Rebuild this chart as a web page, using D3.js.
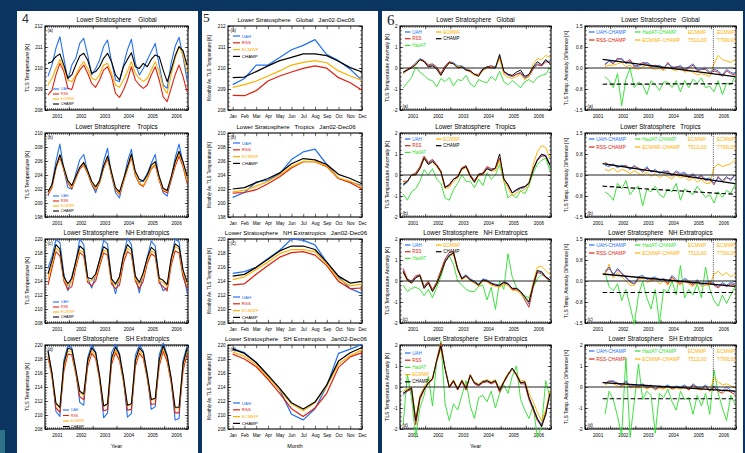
<!DOCTYPE html>
<html>
<head>
<meta charset="utf-8">
<script src="https://cdn.jsdelivr.net/npm/d3@7"></script>
<style>
  body { margin: 0; background: #0b3561; }
  svg { display: block; }
</style>
</head>
<body>
<svg id="fig" width="745" height="453"></svg>
<script>
// Lower stratosphere TLS temperatures: absolute series (4), monthly means (5), anomalies and differences (6)

const FONT = '"Liberation Sans", Arial, Helvetica, sans-serif';
const SERIF = '"Liberation Serif", "Times New Roman", serif';

const years = [2001, 2002, 2003, 2004, 2005, 2006];
const monthNames = ["Jan", "Feb", "Mar", "Apr", "May", "Jun", "Jul", "Aug", "Sep", "Oct", "Nov", "Dec"];
const regions = ["Global", "Tropics", "NH Extratropics", "SH Extratropics"];
const rowTags = ["(a)", "(b)", "(c)", "(d)"];
const datasets = ["UAH", "RSS", "ECMWF", "CHAMP"];
const colors = { UAH: "#2370f2", RSS: "#e0220f", ECMWF: "#ffb000", CHAMP: "#000000", HadAT: "#35e035" };

// sample points every second month (Feb, Apr, Jun, Aug, Oct, Dec) 2001-2006
const sampleTimes = d3.range(36).map(i => 2001 + (2 * i + 1.5) / 12);

// ---- panel 4 : TLS temperature [K] ----
const tlsGlobalUAH = [209.6,210.14,210.94,211.49,210.46,209.43, 210.14,210.46,211.17,211.41,210.62,209.67, 209.98,210.38,211.02,211.33,210.3,209.43, 209.35,210.14,210.86,211.37,210.22,209.67, 209.98,210.38,210.78,211.17,210.14,209.19, 209.03,210.22,211.02,211.46,210.54,209.43];
const tlsGlobalRSS = [208.71,208.95,209.67,210.22,209.83,209.03, 208.98,209.59,209.9,210.14,209.75,209.27, 209.08,209.43,209.9,210.06,209.59,208.79, 208.6,208.95,209.43,210.06,209.43,209.19, 209.03,209.19,209.67,210.06,209.43,208.63, 208.4,209.03,209.67,210.14,209.59,208.87];
const tlsGlobalECMWF = [209.19,209.51,209.98,210.41,209.98,209.43, 209.35,209.67,210.06,210.3,209.98,209.51, 209.43,209.67,210.14,210.22,209.75,209.19, 209.08,209.43,209.83,210.3,209.75,209.51, 209.35,209.51,209.9,210.3,209.83,209.08, 208.79,209.67,210.46,211.02,210.62,209.83];
const tlsGlobalCHAMP = [210.22,210.3,210.54,210.67,210.14,209.51, 209.67,210.14,210.57,210.7,210.38,209.75, 209.83,210.06,210.46,210.7,210.3,209.67, 209.43,210.06,210.41,210.73,210.06,209.98, 210.22,210.06,210.41,210.62,210.54,209.9, 209.35,209.9,210.57,211.02,210.83,210.14];

const tlsTropUAH = [200.98,202.71,205.93,208.41,204.7,202.2, 201.97,204.2,206.18,206.93,204.45,202.71, 201.47,203.21,205.93,207.82,203.95,201.47, 200.73,203.21,205.93,207.67,203.95,202.96, 203.21,204.2,205.69,206.93,203.46,201.47, 200.98,203.46,206.43,208.41,205.69,203.21];
const tlsTropRSS = [201.22,202.2,204.94,206.53,204.7,202.86, 202.07,203.46,204.84,205.44,204.2,202.71, 201.87,202.86,204.94,206.33,203.95,201.87, 201.22,202.96,204.84,206.53,203.95,202.71, 202.36,203.46,204.84,205.44,203.21,201.72, 201.47,203.21,205.19,206.68,205.19,202.86];
const tlsTropECMWF = [201.4,202.35,205.1,206.7,204.85,203.0, 202.25,203.6,205.0,205.6,204.35,202.85, 202.0,203.0,205.1,206.5,204.1,202.0, 201.35,203.1,205.0,206.7,204.1,202.85, 202.5,203.6,205.0,205.6,203.4,201.9, 201.7,203.5,205.6,207.1,205.6,203.2];
const tlsTropCHAMP = [201.6,202.6,205.2,206.9,205.1,203.2, 202.5,203.8,205.1,205.8,204.6,203.1, 202.3,203.2,205.3,206.7,204.4,202.2, 201.6,203.4,205.2,207.0,204.5,203.4, 203.1,204.0,205.4,205.9,203.8,202.1, 201.8,203.7,205.9,207.4,205.9,203.9];

const tlsNHUAH = [215.8,217.5,219.9,219.5,215.0,212.6, 214.6,216.8,220.0,219.2,214.4,213.0, 214.8,217.0,219.8,219.3,214.2,212.2, 214.5,217.6,220.1,219.2,214.6,212.3, 215.1,217.4,219.7,219.0,214.1,212.6, 213.0,217.0,220.0,219.6,215.3,212.4];
const tlsNHRSS = [213.4,215.8,218.2,217.6,214.0,212.8, 213.2,215.9,218.1,217.6,213.8,213.3, 214.0,216.1,218.0,217.7,213.6,212.9, 213.4,216.6,218.2,217.8,214.0,212.9, 214.0,216.5,217.9,217.5,213.7,213.2, 212.6,216.2,218.3,218.0,214.6,212.9];
const tlsNHECMWF = [214.3,216.4,218.7,218.2,214.3,213.3, 213.9,216.4,218.4,218.1,214.1,214.0, 214.7,216.6,218.4,218.2,213.9,213.4, 214.2,217.2,218.7,218.3,214.3,213.5, 214.8,216.9,218.3,218.0,214.0,213.8, 213.2,216.8,218.9,218.6,215.2,213.6];
const tlsNHCHAMP = [215.0,216.9,219.2,218.6,214.6,213.6, 214.4,216.8,219.0,218.5,214.5,214.3, 215.0,217.0,218.9,218.5,214.3,213.6, 214.6,217.6,219.2,218.6,214.7,213.8, 215.2,217.3,218.8,218.3,214.4,214.1, 213.5,217.2,219.3,218.9,215.6,213.9];

const tlsSHUAH = [219.3,216.0,210.5,209.8,217.8,219.9, 219.6,216.5,211.8,211.4,218.2,220.0, 219.0,215.4,209.6,210.3,218.9,220.1, 218.8,215.3,209.7,210.2,218.5,220.0, 219.1,215.8,210.8,211.2,218.6,220.3, 218.6,215.2,209.3,209.5,217.8,219.8];
const tlsSHRSS = [218.3,215.4,211.0,210.4,216.3,218.7, 218.6,215.9,212.6,212.2,216.9,218.8, 218.1,215.0,210.6,210.8,217.2,218.9, 217.8,214.8,210.7,210.8,216.9,218.8, 218.1,215.2,211.5,211.6,217.0,219.1, 217.6,214.7,210.3,210.3,216.3,218.7];
const tlsSHECMWF = [218.7,215.7,211.6,211.0,216.9,219.1, 219.0,216.2,213.2,212.8,217.4,219.2, 218.5,215.3,211.2,211.5,217.7,219.3, 218.2,215.1,211.3,211.5,217.4,219.2, 218.5,215.5,212.1,212.3,217.5,219.5, 218.0,215.0,211.0,211.0,216.9,219.1];
const tlsSHCHAMP = [219.1,216.0,211.7,211.1,217.3,219.5, 219.4,216.5,213.4,213.0,217.8,219.6, 218.9,215.6,211.3,211.6,218.1,219.7, 218.6,215.4,211.4,211.6,217.8,219.6, 218.9,215.8,212.2,212.4,217.9,219.9, 218.4,215.3,211.1,211.1,217.3,219.5];

// ---- panel 5 : monthly averages Jan02-Dec06 [K] ----
const climGlobalUAH = [209.21,209.5,210.14,210.14,210.5,210.87,211.08,211.35,210.64,210.35,209.94,209.41];
const climGlobalRSS = [208.7,208.68,208.92,209.38,209.62,209.81,209.98,210.1,209.99,209.54,209.3,208.94];
const climGlobalECMWF = [209.08,209.21,209.38,209.62,209.86,210.14,210.27,210.35,210.25,209.86,209.62,209.41];
const climGlobalCHAMP = [209.54,209.57,209.83,210.1,210.35,210.51,210.67,210.67,210.59,210.32,210.02,209.81];
const climTropUAH = [200.8,201.5,203.0,203.25,204.2,206.2,207.3,207.7,205.5,203.5,203.0,202.5];
const climTropRSS = [201.4,201.5,201.9,202.75,203.75,205.0,205.9,205.9,205.2,203.5,202.9,202.0];
const climTropECMWF = [201.6,201.8,202.4,203.1,204.0,205.2,205.95,205.9,205.3,203.6,203.1,202.3];
const climTropCHAMP = [202.0,202.2,202.9,203.5,204.3,205.6,206.35,206.15,205.5,204.1,203.5,202.75];
const climNHUAH = [215.1,215.35,215.95,217.2,218.4,220.0,219.8,219.15,216.7,214.6,212.9,212.2];
const climNHRSS = [213.45,213.6,214.95,216.2,217.4,218.05,218.2,217.7,216.2,213.95,212.9,213.0];
const climNHECMWF = [214.2,214.6,215.65,216.7,217.9,218.5,218.5,218.2,216.45,214.3,213.3,213.6];
const climNHCHAMP = [214.7,214.95,215.95,217.1,218.3,219.0,219.0,218.5,216.7,214.7,213.7,213.95];
const climSHUAH = [219.5,218.9,217.5,215.55,213.6,210.1,209.3,210.9,214.1,218.8,219.4,220.1];
const climSHRSS = [218.7,218.0,216.9,215.1,213.1,210.9,209.8,211.0,213.1,216.8,218.3,218.9];
const climSHECMWF = [219.0,218.4,217.2,215.4,213.6,211.6,210.6,211.75,214.1,217.3,218.5,219.3];
const climSHCHAMP = [219.4,218.8,217.5,215.7,213.8,211.75,210.85,211.85,214.3,217.7,218.9,219.65];

// ---- panel 6 left : TLS temperature anomaly [K] ----
const anomGlobalUAH = [-0.25,-0.1,0.05,0.25,0.45,0.35, 0.1,0.15,0.0,-0.3,0.05,0.3, 0.25,0.1,0.1,-0.05,-0.15,-0.3, -0.35,-0.1,0.05,0.1,0.05,0.55, -0.2,-0.35,-0.4,-0.3,-0.2,-0.45, -0.35,0.0,0.2,0.1,0.35,0.3];
const anomGlobalRSS = [-0.2,-0.05,0.05,0.2,0.4,0.35, 0.15,0.2,0.05,-0.25,0.1,0.3, 0.2,0.05,0.05,-0.1,-0.1,-0.3, -0.3,-0.05,0.05,0.1,0.0,0.5, -0.2,-0.3,-0.4,-0.3,-0.25,-0.5, -0.4,-0.05,0.15,0.1,0.3,0.25];
const anomGlobalECMWF = [-0.3,-0.1,0.0,0.2,0.4,0.3, 0.05,0.1,-0.05,-0.35,0.0,0.25, 0.2,0.05,0.05,-0.1,-0.2,-0.35, -0.35,-0.15,0.0,0.05,0.0,0.45, -0.3,-0.45,-0.5,-0.4,-0.3,-0.55, -0.4,0.2,0.45,0.4,0.6,0.5];
const anomGlobalCHAMP = [-0.2,-0.1,0.0,0.15,0.4,0.3, 0.05,0.1,-0.05,-0.35,0.0,0.25, 0.2,0.0,0.05,-0.1,-0.15,-0.3, -0.4,-0.05,0.05,0.0,0.0,0.65, -0.15,-0.3,-0.35,-0.2,-0.1,-0.4, -0.3,0.05,0.3,0.15,0.4,0.2];
const anomGlobalHadAT = [-0.95,-0.7,-0.45,0.05,-0.2,-0.35, -0.55,-0.6,-0.9,-0.5,-0.65,-0.45, -0.85,-0.55,-0.6,-0.35,-0.75,-0.9, -0.55,-0.65,-0.7,-0.4,-0.6,-0.15, -0.65,-0.8,-0.6,-0.75,-0.95,-0.65, -0.55,-0.7,-0.45,-0.35,-0.3,0.0];

const anomTropUAH = [-0.5,-0.35,0.0,0.05,0.35,0.85, 0.55,0.7,0.45,0.15,-0.6,-0.5, -0.2,-0.1,0.3,0.4,-0.05,-0.3, 0.0,0.05,0.35,0.25,0.3,0.75, -0.2,-0.5,-0.85,-0.75,-0.65,-0.6, -0.4,0.3,0.75,0.95,0.95,0.5];
const anomTropRSS = [-0.3,-0.3,0.0,0.1,0.4,0.9, 0.6,0.75,0.5,0.2,-0.55,-0.5, -0.2,-0.05,0.35,0.45,0.0,-0.25, 0.0,0.1,0.4,0.3,0.3,0.8, -0.15,-0.5,-0.85,-0.7,-0.6,-0.55, -0.35,0.3,0.7,0.9,0.9,0.45];
const anomTropECMWF = [-0.4,-0.3,0.0,0.0,0.3,0.8, 0.5,0.6,0.4,0.1,-0.65,-0.6, -0.3,-0.15,0.25,0.35,-0.1,-0.35, -0.05,0.0,0.3,0.2,0.2,0.7, -0.3,-0.6,-1.0,-0.85,-0.75,-0.7, -0.45,0.5,1.1,1.4,1.3,0.8];
const anomTropCHAMP = [-0.45,-0.3,0.0,0.0,0.3,0.8, 0.5,0.65,0.45,0.15,-0.6,-0.45, -0.2,-0.1,0.3,0.4,-0.05,-0.35, 0.05,0.05,0.3,0.2,0.35,1.0, -0.2,-0.45,-0.85,-0.7,-0.6,-0.55, -0.4,0.25,0.7,1.0,0.9,0.45];
const anomTropHadAT = [-0.9,-1.2,-0.8,-0.65,-0.3,0.25, 0.0,0.3,-0.2,-0.4,-1.1,-1.2, -0.7,-0.4,0.0,-0.3,-0.3,-0.6, -0.2,-0.5,0.1,-0.2,0.0,0.5, -0.3,-1.1,-0.9,-1.1,-0.75,-0.9, -0.5,0.1,0.5,0.7,0.8,0.2];

const anomNHUAH = [0.5,0.05,-0.05,0.2,0.3,-0.3, -0.05,-0.45,-0.1,0.45,1.0,1.25, 1.3,0.6,0.15,0.3,0.1,0.0, -0.15,0.1,0.05,-0.1,-0.15,-0.2, -0.05,-0.1,-0.35,-0.35,-0.5,-0.8, -1.1,-0.2,0.45,0.4,0.2,0.05];
const anomNHRSS = [0.6,0.1,0.0,0.25,0.3,-0.25, 0.0,-0.4,-0.05,0.5,1.05,1.35, 1.4,0.6,0.1,0.25,0.05,-0.05, -0.2,0.05,0.0,-0.15,-0.2,-0.25, -0.1,-0.15,-0.4,-0.4,-0.55,-0.9, -1.25,-0.3,0.4,0.35,0.15,0.0];
const anomNHECMWF = [0.4,0.0,-0.1,0.15,0.25,-0.35, -0.1,-0.5,-0.15,0.35,0.9,1.2, 1.25,0.5,0.05,0.2,0.0,-0.1, -0.25,0.0,-0.05,-0.2,-0.25,-0.3, -0.15,-0.2,-0.45,-0.45,-0.6,-0.85, -1.0,-0.05,0.65,0.7,0.5,0.3];
const anomNHCHAMP = [0.45,0.05,-0.1,0.15,0.25,-0.35, -0.1,-0.5,-0.15,0.35,0.9,1.2, 1.35,0.55,0.1,0.25,0.05,-0.05, -0.2,0.05,0.0,-0.1,-0.2,-0.2, -0.05,-0.15,-0.35,-0.35,-0.5,-0.75, -1.0,-0.2,0.5,0.45,0.2,0.05];
const anomNHHadAT = [-0.2,-0.5,-0.35,-0.3,-0.4,-0.7, -0.4,-0.8,-0.3,0.2,0.9,1.2, 0.8,0.0,-0.2,-0.4,-0.5,-0.5, -0.25,-0.2,-0.9,-0.3,-1.35,0.0, -0.4,1.3,0.2,-0.3,-0.5,-0.7, -0.8,-0.3,0.1,0.3,0.2,0.0];

const anomSHUAH = [-0.4,-0.2,-0.1,-1.6,-0.5,-0.1, 0.2,0.4,1.2,1.9,0.9,0.0, 0.3,-0.1,0.3,-0.1,0.6,0.2, 0.1,0.25,0.3,0.2,0.3,-0.2, 0.25,0.6,0.9,0.6,0.2,0.2, -0.5,-1.0,-1.5,-1.8,-1.3,-0.3];
const anomSHRSS = [-0.3,-0.2,-0.1,-1.8,-0.6,-0.15, 0.15,0.35,1.3,2.1,0.9,-0.05, 0.25,-0.15,0.25,-0.15,0.55,0.15, 0.05,0.2,0.25,0.15,0.25,-0.25, 0.2,0.55,0.85,0.55,0.15,0.15, -0.6,-1.1,-1.6,-1.85,-1.2,-0.25];
const anomSHECMWF = [-0.2,-0.1,0.0,-1.5,-0.4,0.0, 0.3,0.45,1.2,1.8,0.9,0.05, 0.35,-0.05,0.35,0.0,0.6,0.25, 0.15,0.3,0.35,0.25,0.35,-0.1, 0.3,0.65,0.85,0.65,0.3,0.3, -0.3,-0.7,-1.2,-1.6,-1.1,-0.2];
const anomSHCHAMP = [-0.3,-0.15,-0.05,-1.6,-0.5,-0.1, 0.2,0.4,1.25,1.95,0.85,0.0, 0.3,-0.1,0.3,-0.05,0.55,0.2, 0.1,0.25,0.3,0.2,0.3,-0.15, 0.25,0.6,0.9,0.6,0.2,0.25, -0.5,-1.0,-1.5,-1.9,-1.3,-0.3];
const anomSHHadAT = [-1.8,0.6,-0.5,-2.4,-1.0,-0.4, 0.5,-0.9,1.2,2.2,-0.8,-1.6, -0.8,-1.1,-0.4,0.3,-0.9,-1.5, -0.5,-0.4,-0.7,-0.2,-1.0,-0.3, 0.1,-0.3,0.5,1.0,-0.6,-1.1, -1.5,-0.9,-2.4,-1.9,0.3,-0.5];

// ---- panel 6 right : anomaly differences to CHAMP [K], from Oct 2001 ----
const diffGlobalUAH = [0.15,0.25,0.2,0.3,0.35,0.15,0.25,0.1, 0.05,0.15,0.2,0.1,0.05,0.1,0.0,0.15, 0.05,0.0,0.1,-0.05,0.05,0.15,-0.05,-0.05, 0.0,-0.15,-0.05,-0.1,-0.25,-0.05,-0.15,-0.2];
const diffGlobalRSS = [0.1,0.25,0.15,0.35,0.3,0.2,0.3,0.05, 0.1,0.2,0.15,0.05,0.1,0.05,-0.05,0.2, 0.0,0.05,0.05,-0.1,0.0,0.1,-0.1,-0.05, -0.05,-0.2,-0.1,-0.15,-0.3,-0.1,-0.2,-0.25];
const diffGlobalHadAT = [-0.3,-0.45,-0.7,-0.2,-1.35,-0.4,0.0,-0.7, -0.5,-0.6,-0.95,-0.45,-0.6,-0.8,-0.5,-0.5, -0.7,-0.45,-0.85,-0.45,-0.7,-0.4,-0.55,-0.35, -0.7,-0.65,-0.85,-0.45,-0.95,-0.55,-0.6,-0.3];
const diffGlobalECMWF = [0.05,0.1,0.1,0.15,0.2,0.05,0.1,0.0, -0.05,0.05,0.1,0.0,-0.05,0.0,-0.1,0.05, -0.05,-0.1,0.0,-0.15,-0.1,-0.15,-0.25,-0.2, -0.25,-0.3,0.15,0.45,0.3,0.25,0.2,0.3];

const diffTropUAH = [0.35,0.3,0.4,0.25,0.35,0.3,0.2,0.35, 0.2,0.15,0.3,0.1,0.2,0.05,0.15,0.1, 0.0,0.15,0.05,0.1,-0.05,0.05,-0.1,0.0, -0.15,-0.1,-0.3,-0.1,-0.2,-0.05,-0.2,0.0];
const diffTropRSS = [0.45,0.35,0.35,0.3,0.3,0.35,0.2,0.3, 0.25,0.1,0.25,0.15,0.15,0.1,0.1,0.15, -0.05,0.1,0.0,0.05,-0.1,0.0,-0.1,-0.05, -0.2,-0.15,-0.35,-0.05,-0.25,-0.1,-0.15,0.0];
const diffTropHadAT = [-0.6,-0.7,-0.9,-0.3,-0.5,-0.2,-0.7,-0.5, -0.4,-1.1,-0.5,-0.6,-0.4,-0.7,-0.8,-0.5, -0.6,-0.3,-0.9,-0.5,-0.6,-0.7,-0.4,-0.6, -0.8,-0.7,-1.0,-0.6,-0.8,-0.55,-0.65,-0.35];
const diffTropECMWF = [0.2,0.15,0.25,0.1,0.2,0.15,0.05,0.15, 0.05,0.0,0.1,-0.05,0.05,-0.1,0.0,-0.05, -0.15,0.0,-0.1,-0.05,-0.2,-0.1,-0.25,-0.15, -0.3,-0.3,0.25,0.4,0.3,0.35,0.4,0.55];

const diffNHUAH = [0.35,0.5,0.2,0.45,0.3,0.1,0.0,-0.1, 0.15,0.2,0.05,0.1,0.15,0.0,0.1,-0.05, 0.2,0.05,-0.05,0.1,0.0,-0.1,0.05,-0.15, -0.05,0.0,-0.1,-0.2,-0.05,-0.15,-0.05,-0.1];
const diffNHRSS = [0.3,0.45,0.25,0.4,0.25,0.15,-0.05,-0.1, 0.1,0.15,0.1,0.05,0.1,0.05,0.05,-0.1, 0.15,0.0,-0.1,0.05,-0.05,-0.15,0.0,-0.1, -0.1,-0.05,-0.15,-0.25,-0.1,-0.2,-0.1,-0.15];
const diffNHHadAT = [0.3,-0.2,-0.35,-0.1,-0.7,-0.3,-0.9,-1.55, -0.5,0.0,-0.6,-1.0,-0.3,-1.5,-0.3,-0.4, 0.0,-0.5,0.55,-0.6,-0.3,-0.5,-0.1,-0.6, 0.5,-0.3,-0.7,-0.9,-0.5,-0.8,-0.5,-0.2];
const diffNHECMWF = [0.2,0.6,0.1,0.3,0.15,0.0,-0.15,-0.15, 0.05,0.1,-0.05,0.0,0.05,-0.1,0.0,-0.15, 0.1,-0.05,-0.15,0.0,-0.1,-0.2,-0.05,-0.2, -0.15,-0.15,0.25,0.35,0.2,0.3,0.15,0.25];

const diffSHUAH = [0.2,0.25,0.3,0.15,0.1,0.3,0.0,0.1, 0.05,0.15,0.0,0.1,-0.1,0.05,0.0,0.1, -0.05,0.05,0.0,0.1,-0.1,0.15,0.0,-0.05, 0.1,-0.15,0.05,-0.1,-0.2,0.0,-0.15,-0.25];
const diffSHRSS = [0.15,0.3,0.25,0.2,0.05,0.25,0.05,0.05, 0.0,0.1,-0.05,0.05,-0.1,0.0,-0.05,0.05, -0.1,0.0,-0.05,0.05,-0.15,0.1,-0.05,-0.1, 0.05,-0.2,0.0,-0.2,-0.3,-0.1,-0.25,-0.35];
const diffSHHadAT = [-1.3,-0.2,-0.6,-1.4,-2.3,1.4,-2.4,-0.7, 1.1,-0.6,-0.2,-0.4,-2.2,-0.3,-0.5,-0.1, -0.7,-1.1,-0.2,-0.6,-0.5,-1.3,-0.4,-0.9, -0.3,-1.3,0.8,-0.3,-1.0,-1.6,-0.4,-0.8];
const diffSHECMWF = [0.1,0.2,0.15,0.05,0.0,0.15,-0.05,0.0, -0.05,0.05,-0.1,0.0,-0.15,-0.05,-0.1,0.0, -0.1,-0.05,-0.1,0.0,-0.15,0.05,-0.1,-0.15, 0.0,-0.2,0.45,0.25,0.1,0.15,0.05,0.0];

// trend of UAH/RSS minus CHAMP and mean HadAT offset, per row (start / end value)
const trendSpan = [2001.7, 2006.96];
const trendStart = [0.31, 0.41, 0.25, 0.21];
const trendEnd = [-0.31, -0.31, -0.19, -0.2];
const hadMeanStart = [-0.58, -0.4, -0.41, -0.56];
const hadMeanEnd = [-0.56, -0.69, -0.41, -0.56];
const ecmwfSwitch = 2006.1;

// axis ranges
const absDomains = [[208, 212], [198, 210], [208, 220], [208, 220]];
const absTicks = [[208, 209, 210, 211, 212], [198, 200, 202, 204, 206, 208, 210],
                  [208, 210, 212, 214, 216, 218, 220], [208, 210, 212, 214, 216, 218, 220]];
const anomTicks = [-2, -1, 0, 1, 2];
const diffDomains = [[-1.5, 1.5], [-1.5, 1.5], [-1.5, 1.5], [-2, 2]];
const diffTicks = [[-1.5, -0.75, 0, 0.75, 1.5], [-1.5, -0.75, 0, 0.75, 1.5], [-1.5, -0.75, 0, 0.75, 1.5], [-2, -1, 0, 1, 2]];

const absSeries = [
  [tlsGlobalUAH, tlsGlobalRSS, tlsGlobalECMWF, tlsGlobalCHAMP],
  [tlsTropUAH, tlsTropRSS, tlsTropECMWF, tlsTropCHAMP],
  [tlsNHUAH, tlsNHRSS, tlsNHECMWF, tlsNHCHAMP],
  [tlsSHUAH, tlsSHRSS, tlsSHECMWF, tlsSHCHAMP]];
const climSeries = [
  [climGlobalUAH, climGlobalRSS, climGlobalECMWF, climGlobalCHAMP],
  [climTropUAH, climTropRSS, climTropECMWF, climTropCHAMP],
  [climNHUAH, climNHRSS, climNHECMWF, climNHCHAMP],
  [climSHUAH, climSHRSS, climSHECMWF, climSHCHAMP]];
const anomSeries = [
  { HadAT: anomGlobalHadAT, UAH: anomGlobalUAH, RSS: anomGlobalRSS, ECMWF: anomGlobalECMWF, CHAMP: anomGlobalCHAMP },
  { HadAT: anomTropHadAT, UAH: anomTropUAH, RSS: anomTropRSS, ECMWF: anomTropECMWF, CHAMP: anomTropCHAMP },
  { HadAT: anomNHHadAT, UAH: anomNHUAH, RSS: anomNHRSS, ECMWF: anomNHECMWF, CHAMP: anomNHCHAMP },
  { HadAT: anomSHHadAT, UAH: anomSHUAH, RSS: anomSHRSS, ECMWF: anomSHECMWF, CHAMP: anomSHCHAMP }];
const diffSeries = [
  { HadAT: diffGlobalHadAT, ECMWF: diffGlobalECMWF, RSS: diffGlobalRSS, UAH: diffGlobalUAH },
  { HadAT: diffTropHadAT, ECMWF: diffTropECMWF, RSS: diffTropRSS, UAH: diffTropUAH },
  { HadAT: diffNHHadAT, ECMWF: diffNHECMWF, RSS: diffNHRSS, UAH: diffNHUAH },
  { HadAT: diffSHHadAT, ECMWF: diffSHECMWF, RSS: diffSHRSS, UAH: diffSHUAH }];

// layout
const rowTop = [26, 133, 239, 345];
const plotH = 84;
const monthTicks = d3.range(73).map(k => 2001 + k / 12);
const yearTicks = d3.range(2001, 2008);
const midYears = years.map(y => y + 0.5);

const svg = d3.select("#fig");
svg.append("rect").attr("width", 745).attr("height", 453).attr("fill", "#0b3561");
svg.append("rect").attr("x", 0).attr("y", 430).attr("width", 5).attr("height", 23).attr("fill", "#2c7488");
[[17, 198], [202, 378], [382, 743]].forEach(([a, b]) =>
  svg.append("rect").attr("x", a).attr("y", 11).attr("width", b - a).attr("height", 442).attr("fill", "#fff"));

function label(x, y, str, size, opts = {}) {
  const t = svg.append("text").attr("x", x).attr("y", y)
    .attr("font-size", size).attr("font-family", opts.family || FONT)
    .attr("fill", opts.fill || "#000").attr("text-anchor", opts.anchor || "start")
    .style("white-space", "pre").text(str);
  if (opts.rotate) t.attr("transform", `rotate(-90,${x},${y})`);
  return t;
}

function minorOf(ticks) {
  const step = ticks[1] - ticks[0];
  return d3.range(ticks[0], ticks[ticks.length - 1] + step / 10, step / 5);
}

// box with inward ticks on all four sides + tick labels
function drawFrame(x, y, top, o) {
  const [left, right] = x.range();
  const bottom = top + plotH;
  const g = svg.append("g");
  const marks = (axis, tx, ty, len) => g.append("g")
      .attr("transform", `translate(${tx},${ty})`)
      .call(axis.tickSize(-len).tickFormat(""))
      .call(s => s.select(".domain").remove())
      .selectAll("line").attr("stroke", "#000").attr("stroke-width", 0.6);
  [[o.xMinor, 1.8], [o.xMajor, 3.2]].forEach(([v, len]) => {
    if (!v) return;
    marks(d3.axisBottom(x).tickValues(v), 0, bottom, len);
    marks(d3.axisTop(x).tickValues(v), 0, top, len);
  });
  [[minorOf(o.yMajor), 1.8], [o.yMajor, 3.2]].forEach(([v, len]) => {
    marks(d3.axisLeft(y).tickValues(v), left, 0, len);
    marks(d3.axisRight(y).tickValues(v), right, 0, len);
  });
  g.append("rect").attr("x", left).attr("y", top).attr("width", right - left).attr("height", plotH)
    .attr("fill", "none").attr("stroke", "#000").attr("stroke-width", 1.1);

  g.append("g").attr("transform", `translate(0,${bottom})`)
    .call(d3.axisBottom(x).tickValues(o.xLabelAt).tickFormat(o.xFormat).tickSize(0).tickPadding(5))
    .call(s => s.select(".domain").remove())
    .selectAll("text").attr("font-size", 4.6).attr("font-family", FONT).attr("fill", "#000");
  g.append("g").attr("transform", `translate(${left},0)`)
    .call(d3.axisLeft(y).tickValues(o.yMajor).tickFormat(o.yFormat).tickSize(0).tickPadding(2.5))
    .call(s => s.select(".domain").remove())
    .selectAll("text").attr("font-size", 4.6).attr("font-family", FONT).attr("fill", "#000");
}

function drawLine(x, y, times, vals, color, width, dash) {
  const line = d3.line().x(d => x(d[0])).y(d => y(d[1]));
  const p = svg.append("path").datum(vals.map((v, i) => [times[i], v]))
    .attr("d", line).attr("fill", "none").attr("stroke", color)
    .attr("stroke-width", width).attr("stroke-linejoin", "round");
  if (dash) p.attr("stroke-dasharray", dash);
}

function legendItem(x, y, text, color, size, len, lw) {
  svg.append("line").attr("x1", x).attr("x2", x + len).attr("y1", y).attr("y2", y)
    .attr("stroke", color).attr("stroke-width", lw);
  label(x + len + 1.8, y + size * 0.36, text, size, { fill: color });
}

const yearFmt = d => String(Math.floor(d));
const intFmt = d => d.toFixed(0);

// big panel numbers
label(22, 23, "4", 12.5, { fill: "#333" });
label(203, 22, "5", 13.5, { family: SERIF, fill: "#222" });
label(387, 25, "6", 15, { family: SERIF, fill: "#222" });

regions.forEach((reg, r) => {
  const top = rowTop[r];
  const bottom = top + plotH;

  // ----- panel 4 -----
  {
    const x = d3.scaleLinear().domain([2001, 2007]).range([45, 188]);
    const y = d3.scaleLinear().domain(absDomains[r]).range([bottom, top]);
    drawFrame(x, y, top, { xMinor: monthTicks, xMajor: yearTicks, xLabelAt: midYears, xFormat: yearFmt,
                           yMajor: absTicks[r], yFormat: intFmt });
    absSeries[r].forEach((vals, k) => drawLine(x, y, sampleTimes, vals, colors[datasets[k]], 1.1));
    label(116.5, top - 4, "Lower Stratosphere    " + reg, 6.3, { anchor: "middle" });
    label(47.5, top + 6, rowTags[r], 4.5);
    label(29, top + plotH / 2, "TLS Temperature [K]", 5.2, { anchor: "middle", rotate: true });
    const lx = r === 3 ? 63 : 53, l0 = r === 3 ? 65 : 63, dl = r === 3 ? 5.5 : 5;
    datasets.forEach((ds, k) => legendItem(lx, top + l0 + k * dl, ds, colors[ds], 3.6, 6, 1.1));
  }

  // ----- panel 5 -----
  {
    const x = d3.scaleLinear().domain([0.6, 12]).range([228, 362]);
    const y = d3.scaleLinear().domain(absDomains[r]).range([bottom, top]);
    const months = d3.range(1, 13);
    drawFrame(x, y, top, { xMajor: months, xLabelAt: months, xFormat: d => monthNames[d - 1],
                           yMajor: absTicks[r], yFormat: intFmt });
    climSeries[r].forEach((vals, k) => drawLine(x, y, months, vals, colors[datasets[k]], 1.25));
    label(296, top - 4, "Lower Stratosphere   " + reg + "   Jan02-Dec06", 6.1, { anchor: "middle" });
    label(230.5, top + 6, rowTags[r], 4.5);
    label(211, top + plotH / 2, "Monthly Av. TLS Temperature [K]", 4.5, { anchor: "middle", rotate: true });
    const l0 = r < 2 ? 10 : 58;
    datasets.forEach((ds, k) => legendItem(233, top + l0 + k * 6.8, ds, colors[ds], 4.4, 7, 1.2));
  }

  // ----- panel 6 left -----
  {
    const x = d3.scaleLinear().domain([2001, 2007]).range([400, 551]);
    const y = d3.scaleLinear().domain([-2, 2]).range([bottom, top]);
    drawFrame(x, y, top, { xMinor: monthTicks, xMajor: yearTicks, xLabelAt: midYears, xFormat: yearFmt,
                           yMajor: anomTicks, yFormat: intFmt });
    Object.entries(anomSeries[r]).forEach(([ds, vals]) => drawLine(x, y, sampleTimes, vals, colors[ds], 0.95));
    svg.append("line").attr("x1", 400).attr("x2", 551).attr("y1", y(0)).attr("y2", y(0))
      .attr("stroke", "#222").attr("stroke-width", 1.1);
    label(475.5, top - 4, "Lower Stratosphere   " + reg, 6.3, { anchor: "middle" });
    label(402.5, bottom - 2.5, rowTags[r], 4.5);
    label(389, top + plotH / 2, "TLS Temperature Anomaly [K]", 5.1, { anchor: "middle", rotate: true });
    if (r < 3) {
      ["UAH", "RSS", "HadAT"].forEach((ds, k) => legendItem(405, top + 6 + k * 6.7, ds, colors[ds], 4.5, 5.5, 1.2));
      ["ECMWF", "CHAMP"].forEach((ds, k) => legendItem(436, top + 6 + k * 6.7, ds, colors[ds], 4.5, 5.5, 1.2));
    } else {
      ["UAH", "RSS", "HadAT", "ECMWF", "CHAMP"].forEach((ds, k) =>
        legendItem(405, top + 8 + k * 7.2, ds, colors[ds], 4.5, 5.5, 1.2));
    }
  }

  // ----- panel 6 right -----
  {
    const x = d3.scaleLinear().domain([2001, 2007]).range([585, 736]);
    const y = d3.scaleLinear().domain(diffDomains[r]).range([bottom, top]);
    const fmt = r < 3 ? (d => d.toFixed(1)) : intFmt;
    drawFrame(x, y, top, { xMinor: monthTicks, xMajor: yearTicks, xLabelAt: midYears, xFormat: yearFmt,
                           yMajor: diffTicks[r], yFormat: fmt });
    const times = sampleTimes.slice(4);
    Object.entries(diffSeries[r]).forEach(([ds, vals]) => drawLine(x, y, times, vals, colors[ds], 0.95));
    svg.append("line").attr("x1", 585).attr("x2", 736).attr("y1", y(0)).attr("y2", y(0))
      .attr("stroke", "#222").attr("stroke-width", 1.1);
    drawLine(x, y, trendSpan, [trendStart[r], trendEnd[r]], "#000", 1.3);
    drawLine(x, y, trendSpan, [hadMeanStart[r], hadMeanEnd[r]], "#000", 1.2, "4.5,2.5");
    svg.append("line").attr("x1", x(ecmwfSwitch)).attr("x2", x(ecmwfSwitch))
      .attr("y1", top + 1).attr("y2", top + plotH * 0.55)
      .attr("stroke", "#000").attr("stroke-width", 0.7).attr("stroke-dasharray", "1,1.2");
    label(660.5, top - 4, "Lower Stratosphere   " + reg, 6.3, { anchor: "middle" });
    label(587.5, bottom - 2.5, rowTags[r], 4.5);
    label(568, top + plotH / 2, "TLS Temp. Anomaly Difference [K]", 4.9, { anchor: "middle", rotate: true });
    legendItem(589, top + 6, "UAH-CHAMP", colors.UAH, 4.9, 5.5, 1.2);
    legendItem(589, top + 14, "RSS-CHAMP", colors.RSS, 4.9, 5.5, 1.2);
    legendItem(635, top + 6, "HadAT-CHAMP", colors.HadAT, 4.9, 5.5, 1.2);
    legendItem(635, top + 14, "ECMWF-CHAMP", colors.ECMWF, 4.9, 5.5, 1.2);
    label(688, top + 7.8, "ECMWF", 4.8, { fill: colors.ECMWF });
    label(688, top + 15.8, "T511L60", 4.8, { fill: colors.ECMWF });
    label(717, top + 7.8, "ECMWF", 4.8, { fill: colors.ECMWF });
    label(717, top + 15.8, "T799L91", 4.8, { fill: colors.ECMWF });
  }
});

label(116.5, 448, "Year", 5.5, { anchor: "middle" });
label(295, 448, "Month", 5.5, { anchor: "middle" });
label(475.5, 448, "Year", 5.5, { anchor: "middle" });
</script>
</body>
</html>
